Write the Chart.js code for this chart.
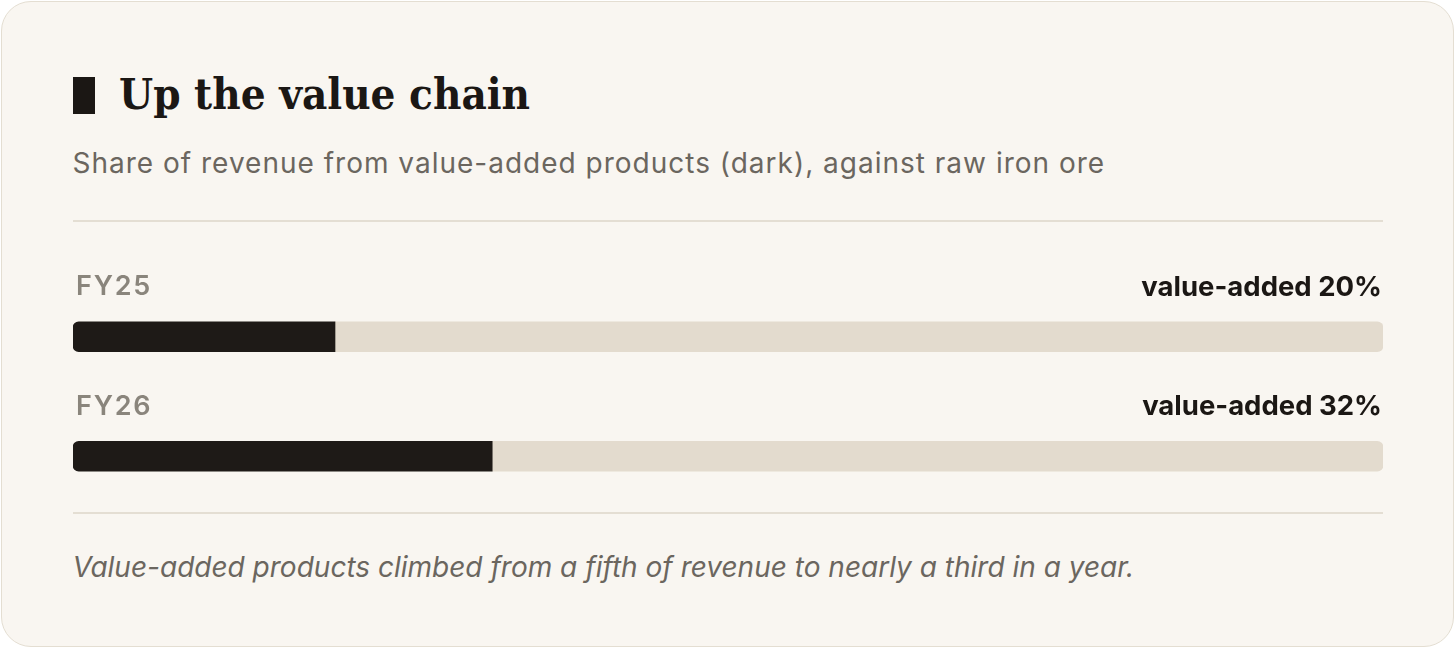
<!DOCTYPE html>
<html>
<head>
<meta charset="utf-8">
<script src="https://cdn.jsdelivr.net/npm/chart.js@4.4.1/dist/chart.umd.min.js"></script>
<style>
  html, body { margin: 0; padding: 0; background: #ffffff; }
  body { width: 1456px; height: 657px; position: relative; overflow: hidden; }
  .card {
    position: absolute; left: 1px; top: 1px; width: 1451px; height: 644px;
    background: #f9f6f1; border: 1.5px solid #e4ded2; border-radius: 30px;
  }
  .mark { position: absolute; left: 70.5px; top: 74.5px; width: 22px; height: 37px; background: #1b1714; }
  .title {
    position: absolute; left: 117px; top: 67px; margin: 0;
    font-family: "DejaVu Serif Condensed", "DejaVu Serif", serif; font-stretch: condensed;
    font-weight: 700; font-size: 43.5px;
    color: #1b1714; line-height: 50px; white-space: nowrap;
  }
  .sub {
    position: absolute; left: 70.5px; top: 143px; margin: 0;
    font-family: Inter, "Noto Sans", sans-serif; font-size: 28px; letter-spacing: 1px; color: #6b665f;
    line-height: 36px; white-space: nowrap;
  }
  .rule { position: absolute; left: 70.5px; width: 1310px; height: 1.5px; background: #e4ded3; }
  .note {
    position: absolute; left: 70.5px; top: 546px; margin: 0;
    font-family: Inter, "Noto Sans", sans-serif; font-style: italic; font-size: 28px;
    color: #6b665f; line-height: 38px; white-space: nowrap;
  }
  #wrap { position: absolute; left: 70.5px; top: 237.5px; width: 1310px; height: 280px; }
</style>
</head>
<body>
<div class="card">
  <div class="mark"></div>
  <h1 class="title">Up the value chain</h1>
  <p class="sub">Share of revenue from value-added products (dark), against raw iron ore</p>
  <div class="rule" style="top:218px"></div>
  <div id="wrap"><canvas id="chart"></canvas></div>
  <div class="rule" style="top:510px"></div>
  <p class="note">Value-added products climbed from a fifth of revenue to nearly a third in a year.</p>
</div>
<script>
const years = ['FY25', 'FY26'];
const valueAdded = [20, 32];
const rawOre = [80, 68];

// FY label on the left, share text on the right, above each bar
const rowLabels = {
  id: 'rowLabels',
  afterDatasetsDraw(chart) {
    const ctx = chart.ctx;
    const meta = chart.getDatasetMeta(0);
    const area = chart.chartArea;
    ctx.save();
    ctx.textBaseline = 'middle';
    meta.data.forEach((bar, i) => {
      const y = bar.y - 49.5;
      ctx.fillStyle = '#8a857c';
      ctx.font = '600 27px Inter, "Noto Sans", sans-serif';
      ctx.textAlign = 'left';
      if ('letterSpacing' in ctx) ctx.letterSpacing = '1.8px';
      ctx.fillText(years[i], area.left + 3, y);
      if ('letterSpacing' in ctx) ctx.letterSpacing = '0px';
      ctx.fillStyle = '#1b1714';
      ctx.font = '700 27.5px Inter, "Noto Sans", sans-serif';
      ctx.textAlign = 'right';
      ctx.fillText('value-added ' + valueAdded[i] + '%', area.right - 1, y);
    });
    ctx.restore();
  }
};

new Chart(document.getElementById('chart'), {
  type: 'bar',
  data: {
    labels: years,
    datasets: [
      {
        label: 'Value-added products',
        data: valueAdded,
        backgroundColor: '#1e1a17',
        borderSkipped: false,
        borderRadius: { topLeft: 6, bottomLeft: 6, topRight: 0, bottomRight: 0 },
        barThickness: 30
      },
      {
        label: 'Raw iron ore',
        data: rawOre,
        backgroundColor: '#e3dbce',
        borderSkipped: false,
        borderRadius: { topLeft: 0, bottomLeft: 0, topRight: 6, bottomRight: 6 },
        barThickness: 30
      }
    ]
  },
  options: {
    indexAxis: 'y',
    responsive: true,
    maintainAspectRatio: false,
    animation: false,
    layout: { padding: { top: 37, bottom: 4, left: 0, right: 0 } },
    scales: {
      x: { stacked: true, min: 0, max: 100, display: false },
      y: { stacked: true, display: false }
    },
    plugins: {
      legend: { display: false },
      tooltip: { enabled: false }
    }
  },
  plugins: [rowLabels]
});
</script>
</body>
</html>
